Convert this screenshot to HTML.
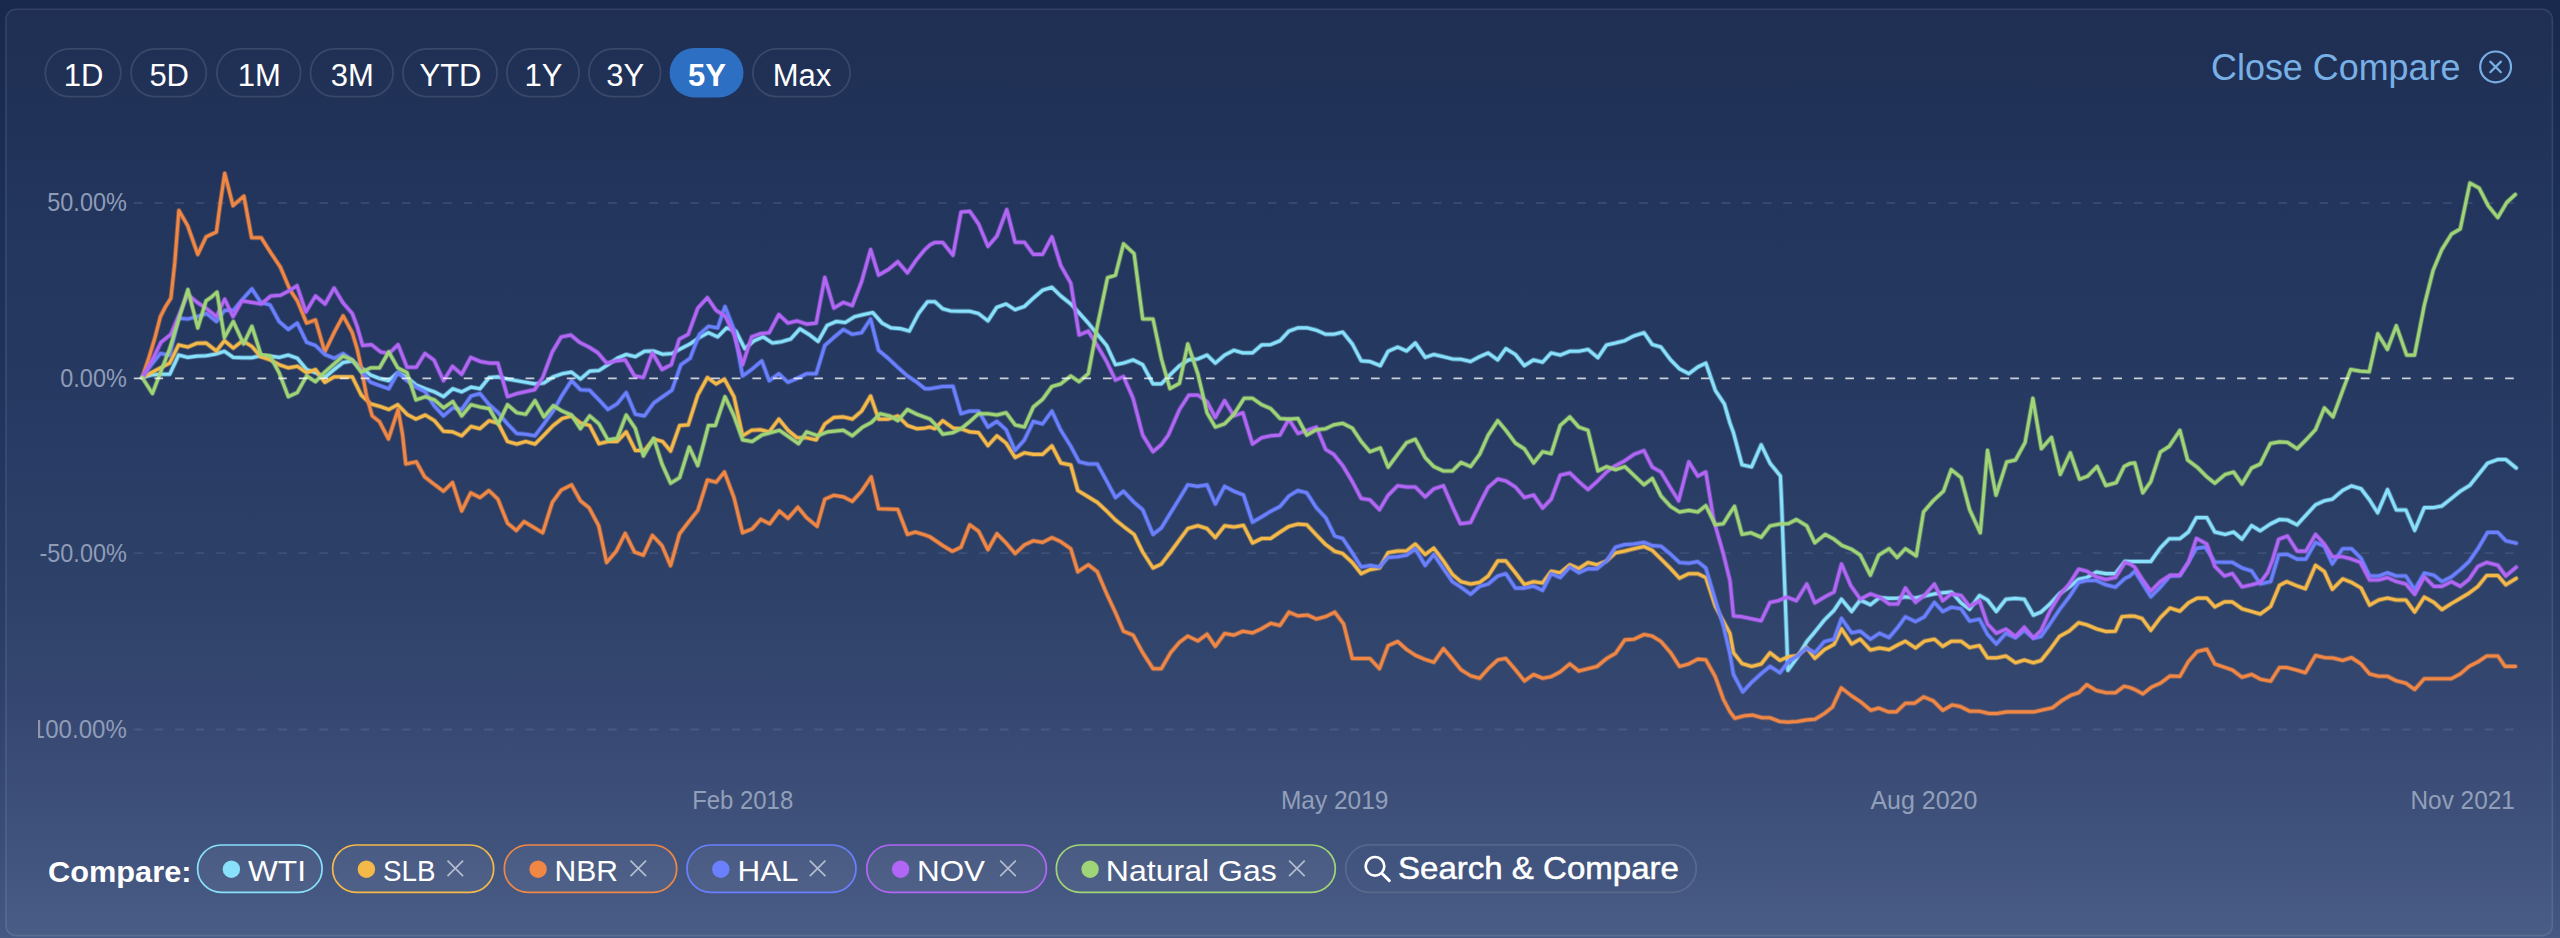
<!DOCTYPE html>
<html lang="en"><head><meta charset="utf-8"><title>Compare chart</title>
<style>
html,body{margin:0;padding:0;}
body{width:2560px;height:938px;overflow:hidden;position:relative;
 font-family:"Liberation Sans",sans-serif;color:#fff;
 background:linear-gradient(180deg,rgb(24,40,77) 0px,rgb(28,48,89) 232px,rgb(30,50,91) 345px,rgb(35,54,96) 467px,rgb(41,60,101) 607px,rgb(47,66,108) 700px,rgb(52,71,114) 757px,rgb(58,78,120) 850px,rgb(68,87,130) 930px,rgb(70,90,132) 938px);}
svg{position:absolute;left:0;top:0;}
text{font-family:"Liberation Sans",sans-serif;}
</style></head><body>
<svg width="2560" height="938" viewBox="0 0 2560 938">
<defs><clipPath id="cv"><rect x="38" y="120" width="2500" height="720"/></clipPath></defs>
<rect x="5.9" y="9.3" width="2546.5" height="926.3" rx="10" ry="10" fill="rgba(255,255,255,0.03)" stroke="rgba(255,255,255,0.11)" stroke-width="1.6"/>
<g fill="none" stroke="rgba(255,255,255,0.115)" stroke-width="1.8">
<rect x="45.3" y="48.8" width="75.5" height="47.8" rx="23.9"/>
<rect x="131.1" y="48.8" width="75.2" height="47.8" rx="23.9"/>
<rect x="216.9" y="48.8" width="83.7" height="47.8" rx="23.9"/>
<rect x="310.5" y="48.8" width="82.6" height="47.8" rx="23.9"/>
<rect x="402.9" y="48.8" width="94.2" height="47.8" rx="23.9"/>
<rect x="506.9" y="48.8" width="72.2" height="47.8" rx="23.9"/>
<rect x="588.9" y="48.8" width="71.7" height="47.8" rx="23.9"/>
<rect x="752.9" y="48.8" width="97.2" height="47.8" rx="23.9"/>
</g>
<rect x="669.6" y="47.9" width="73.9" height="49.6" rx="24.8" fill="#2d6fc2"/>
<g font-size="31" fill="#fff" text-anchor="middle">
<text x="83.55" y="85.9">1D</text>
<text x="169.2" y="85.9">5D</text>
<text x="259.25" y="85.9">1M</text>
<text x="352.3" y="85.9">3M</text>
<text x="450.5" y="85.9">YTD</text>
<text x="543.5" y="85.9">1Y</text>
<text x="625.25" y="85.9">3Y</text>
<text x="707.05" y="85.9" font-weight="bold">5Y</text>
<text x="802" y="85.9">Max</text>
</g>
<text x="2211" y="79.5" font-size="37.8" fill="#78b0e6" textLength="249.5" lengthAdjust="spacingAndGlyphs">Close Compare</text>
<g stroke="#78b0e6" stroke-width="2.2" fill="none" stroke-linecap="round">
<circle cx="2495.6" cy="66.9" r="15.4"/>
<path d="M2490.3 61.6 L2500.9 72.2 M2500.9 61.6 L2490.3 72.2"/>
</g>
<line x1="133.8" y1="203" x2="2514.2" y2="203" stroke="rgba(255,255,255,0.095)" stroke-width="1.9" stroke-dasharray="8.7 11.92"/>
<line x1="133.8" y1="553.1" x2="2514.2" y2="553.1" stroke="rgba(255,255,255,0.085)" stroke-width="1.9" stroke-dasharray="8.7 11.92"/>
<line x1="133.8" y1="729.5" x2="2514.2" y2="729.5" stroke="rgba(255,255,255,0.085)" stroke-width="1.9" stroke-dasharray="8.7 11.92"/>
<g font-size="25" fill="#8f9cb8" text-anchor="end" clip-path="url(#cv)">
<text x="126.8" y="211.4" textLength="79.5" lengthAdjust="spacingAndGlyphs">50.00%</text>
<text x="126.8" y="386.8" textLength="66.5" lengthAdjust="spacingAndGlyphs">0.00%</text>
<text x="126.8" y="561.5" textLength="87.3" lengthAdjust="spacingAndGlyphs">-50.00%</text>
<text x="126.8" y="737.9" textLength="103" lengthAdjust="spacingAndGlyphs">-100.00%</text>
</g>
<g font-size="25.5" fill="#929fba">
<text x="692.2" y="809.4" textLength="101" lengthAdjust="spacingAndGlyphs">Feb 2018</text>
<text x="1280.9" y="809.4" textLength="107.6" lengthAdjust="spacingAndGlyphs">May 2019</text>
<text x="1870.4" y="809.4" textLength="106.9" lengthAdjust="spacingAndGlyphs">Aug 2020</text>
<text x="2410.5" y="809.4" textLength="104.3" lengthAdjust="spacingAndGlyphs">Nov 2021</text>
</g>
<defs>
<polyline id="s-cyan" points="142.2,377.5 151.4,375 160.4,374.3 169.7,374.3 178.6,355.1 187.9,357.4 196.9,356.1 206.1,355.8 215.1,354.2 224.4,351.3 233.3,357.4 242.6,357.7 251.9,357.7 260.8,355.8 270.1,356.1 279.1,357.4 288.3,355.1 297.3,358.3 306.6,369.5 315.5,372.7 324.8,377.5 334.1,369.5 343.1,362.5 352.3,360.9 361.3,367.9 370.6,375 379.5,378.5 388.8,380.7 397.8,372.7 407,377.5 416,384.9 425.3,388.7 434.5,391.9 443.5,396.7 452.8,388.7 461.7,391.9 471,387.1 480,388.7 489.2,377.5 498.2,376.9 507.5,379.1 516.8,380.7 525.7,382.3 535,383.9 543.9,383 553.2,376.9 562.2,373.7 571.5,372.1 580.4,379.1 589.7,371.1 599,370.5 607.9,364.7 617.2,358.3 626.2,354.5 635.4,356.7 644.4,351.3 653.7,351 662.6,354.2 671.9,353.5 680.9,348.7 690.1,343.9 699.4,337.5 708.4,332.7 717.7,336.9 726.6,327.9 735.9,331.1 744.8,348.7 754.1,340.7 763.1,336.9 772.4,343 781.6,341.7 790.6,339.1 799.9,328.9 808.8,334.3 818.1,341.4 827.1,325.4 836.3,321.5 845.3,322.5 854.6,316.7 863.8,314.5 872.8,312.6 882.1,323.1 891,327.9 900.3,328.6 909.3,331.1 918.5,313.6 927.5,301.7 934.8,301.7 942.8,308.8 950.8,311 961,311.3 969.7,311.3 978.6,313.6 987.9,320.9 996.9,307.2 1006.1,304 1015.1,309.7 1024.4,306.5 1033.3,298.2 1042.6,290.2 1051.9,287.3 1060.8,296 1070.8,304 1079.1,312.9 1088.3,323.1 1097.3,334.3 1106.6,345.5 1115.5,364.7 1123.5,363.1 1133.1,359.9 1142.7,364.7 1153,383.9 1161.3,383.9 1170.6,374.3 1179.5,365.7 1188.8,359.9 1197.8,359 1207,355.1 1215.3,363.1 1224.6,355.1 1233.9,350.3 1242.9,352.9 1252.5,352.9 1261.7,344.9 1270.7,344.6 1280,340.7 1288.9,331.1 1297.9,327.9 1307.5,327.9 1316.4,330.2 1325.7,334.3 1333.7,334.3 1342.7,332.1 1352.3,343.9 1361.2,360.9 1369.9,361.5 1380.4,365.7 1388.1,351.3 1397.7,347.1 1406.6,351 1415.3,343 1425.2,357.4 1433.8,354.5 1443.4,356.7 1452.4,359 1461,359.3 1470.6,361.5 1479.6,356.7 1488.2,352.9 1497.8,359.9 1505.8,348.7 1515.4,354.5 1524.4,365.7 1533.6,359.9 1542.6,362.2 1551.2,352.9 1560.2,355.1 1569.8,351.3 1578.8,351.3 1588,349.4 1597.9,357.7 1606.6,344.9 1615.5,343 1624.8,340.7 1633.8,335.9 1644,332.7 1652.3,344.6 1661,347.1 1670.6,359.9 1679.5,368.9 1688.8,373.7 1697.8,367 1705.8,363.1 1715.3,390.3 1724.3,403.8 1730,423.2 1733.5,432.8 1742,464.8 1751.6,466.9 1761.2,444.8 1770,463.2 1780.4,476 1781.5,500 1787.9,670.4 1797.2,657.6 1806.8,641.6 1814.8,632 1824.4,620 1834,610.4 1841.5,599.2 1851.6,611.5 1860.3,600 1870.4,604.8 1879.5,597.6 1889.1,598.4 1897.9,598.1 1905.4,596.8 1915.5,598.1 1924.3,596 1934.4,593.9 1942.7,592.8 1951.5,592 1961.1,602.9 1969.6,609.3 1979.5,595.5 1987.5,600 1996.3,611.5 2005.9,599.2 2015.5,598.4 2024.3,599.2 2033.4,615.2 2041.1,612 2049.9,604 2059.5,593.6 2069.1,587.2 2078.7,579.2 2086.7,577.6 2096.3,572 2105.8,573.6 2115.4,573.6 2125,561.3 2130,561.5 2150.8,561.5 2160.4,547.9 2169.2,538.7 2179.9,538.7 2188.4,532 2196.4,517.6 2206.8,517.6 2214.8,532 2225.2,534.4 2233.6,532 2242,539.2 2251.6,525.6 2260.3,530.8 2270.4,524 2279.5,519.5 2287.5,520 2297.1,524.8 2306.7,514.4 2315.5,504.8 2324.3,500.8 2332.3,499.2 2342.7,490.4 2351.5,485.9 2361.1,488.8 2369.6,500 2377.6,512.8 2387.5,489.6 2396.3,510 2405.9,510 2414.7,530.4 2424.3,507.6 2433.9,507.6 2441.9,506 2451.5,498.4 2460.3,491.2 2469.9,485.3 2477.9,475.2 2487.5,463.2 2497.9,459.5 2505.8,459.5 2516.2,468"/>
<polyline id="s-yellow" points="142.2,377.5 151.4,372.7 160.4,367.9 169.7,363.1 178.6,344.9 187.9,347.1 196.9,343.3 206.1,343 216.4,351 224.4,340.7 233.3,348.1 242.6,340.7 251.9,346.5 260.8,356.7 270.1,359.9 279.1,364.7 288.3,367.9 297.3,366.3 306.6,372.7 315.5,369.5 324.8,382.3 334.1,376.9 343.1,376.9 352.3,376.9 361.3,395.1 370.6,403.8 379.5,406.3 388.8,409.5 397.8,404.7 407,414.3 416,419.1 425.3,415 434.5,420.7 443.5,431.3 452.8,431.9 461.7,435.8 471,426.5 480,428.7 489.2,420.7 498.2,423.3 507.5,441.5 516.8,444.1 525.7,441.5 535,444.1 543.9,435.1 553.2,425.5 562.2,418.5 571.5,415.9 580.4,423 589.7,425.5 599,443.7 607.9,441.5 617.2,441.5 626.2,431.9 635.4,450.5 644.4,450.5 653.7,439 662.6,441.5 670.6,451.1 679.6,425.5 688.2,424.9 697.8,395.1 707.4,377.5 716.1,383.9 724.4,379.1 734,396.7 742.6,435.8 751.6,430.3 760.2,429.7 769.2,431.9 778.8,419.1 788,430.3 797,437.7 806.6,437.7 816.2,439.9 824.8,423.9 833.8,417.5 843.4,416.9 852.3,419.1 861.6,411.1 870.6,396.1 878.6,419.1 888.2,419.1 897.8,415.9 907.4,425.5 916.9,428.7 924.9,428.1 930.1,427.1 934.8,428.7 942.8,420.7 953,428.1 961,428.7 969.7,431.9 978.6,432.6 987.9,445.7 996.9,435.8 1006.1,443.1 1015.1,457.5 1024.4,452.8 1033.3,454.4 1042.6,454.4 1051.9,445.8 1060.8,463 1070.8,465 1077.8,490.5 1088.3,496.9 1097.3,502.4 1106.6,511 1115.5,520 1123.5,526.4 1134.1,534.4 1142.7,552 1153,568 1161.3,564.1 1170.6,552 1179.5,539.8 1187.8,528.6 1197.8,525.7 1207,528.6 1215.3,537.6 1224.6,525.7 1233.9,527 1243.5,525.4 1252.5,543 1261.7,538.5 1270.7,538.5 1280,532.1 1288.9,526.4 1297.9,524.1 1306.8,524.8 1316.4,535 1325.7,544.6 1334.7,551.3 1342.7,553.6 1352.3,562.5 1361.2,573.7 1369.9,569.6 1379.5,568 1388.1,552.6 1397.7,551 1406.6,551 1415.3,544 1425.2,554.5 1433.8,548.1 1443.4,560.9 1452.4,574.4 1461,581.7 1470.6,584 1479.6,582.4 1488.2,576 1497.8,560.9 1505.8,560.9 1515.4,572.8 1524.4,584.6 1533.6,581.7 1542.6,583 1551.2,571.2 1560.2,572.8 1569.8,564.8 1578.8,568.6 1588,562.5 1597,564.8 1606.6,560.9 1615.5,552.9 1624.8,551 1633.8,548.8 1644,546.5 1652.3,550.4 1661,559 1670.6,568.6 1679.5,578.2 1688.8,573.7 1697.8,573.7 1705.8,577.6 1715.3,606.3 1730,633.6 1733.5,652.8 1742,663.6 1751.6,666.4 1761.2,664 1770,652.8 1779.9,660.4 1788.4,656.8 1797.2,655.6 1806.8,647.6 1814.8,658.4 1824.4,649.6 1834,644.4 1841.5,628.8 1851.6,644 1860.3,639.2 1870.4,650 1879.5,648 1889.1,649.6 1897.9,644.8 1905.4,641.2 1915.5,648 1924.3,641.2 1934.4,639.2 1942.7,646.4 1951.5,641.2 1961.1,641.2 1969.6,647.6 1979.5,645.6 1987.5,657.9 1996.3,657.9 2005.9,656 2015.5,662.8 2024.3,660 2033.4,662.8 2041.1,660.4 2049.9,649.6 2059.5,636.4 2069.1,631.2 2078.7,622.7 2086.7,624.8 2096.3,628.8 2105.8,631.5 2115.4,631.2 2121.8,616.8 2130,616 2134.8,616.3 2142,618.4 2150.8,630.4 2160.4,617.6 2170,608 2179.9,611.2 2188.4,602.9 2197.2,598.1 2206.8,598.1 2214.8,606.9 2224.4,601.9 2232.4,601.9 2242,608.8 2251.6,611.5 2260.3,614.1 2270.7,606.4 2279.5,585.3 2286.7,581.6 2296.3,585.6 2305.4,588.8 2315.5,565.3 2324.3,571.5 2332.3,589.3 2342.7,578.9 2351.5,582.4 2361.1,588 2369.6,605.1 2378.7,600 2387.5,598.1 2396.3,600 2405.9,600 2414.7,612 2424.3,597.1 2433.9,602.4 2441.9,609.6 2451.5,603.5 2460.3,598.4 2469.1,593.1 2477.9,586.4 2486.7,575.5 2497.9,575.5 2505.8,584.8 2516.2,578.4"/>
<polyline id="s-orange" points="142.2,377.5 149.2,356.7 155,337.5 160.4,316.7 165.2,307.2 170.9,298.2 174.8,262.4 178.9,210.5 187.6,225.6 197.8,254.4 206.1,236.8 216.4,232 220.5,201.6 224.7,173.4 233,205.7 243.9,196.1 251.6,237.7 261.2,237.7 270.8,252.8 280.4,267.2 289.9,289.6 297.3,300.8 306.6,323.1 315.5,319.9 324.8,351.9 334.1,332.7 343.1,315.8 352.3,332.7 357.1,348.7 361.3,367.9 366.7,396.7 372.2,415.9 379.5,421.7 388.5,439 398.1,409.5 402.6,435.1 405.8,464 416.3,461.8 424.6,476.8 433.9,484.1 443.5,491.2 452.5,482.5 461.7,511 470.7,492.8 480,497.6 488.9,490.5 497.9,499.2 507.5,523.2 516.4,530.5 524.1,521.6 533.7,527.3 542.7,532.8 552.3,502.4 561.2,490.2 571.5,484.8 580.4,500.8 589.1,507.8 598.7,525.7 606.6,562.5 616.2,551.3 625.2,533.4 634.5,552 643.4,555.2 652.4,535.3 662,545.6 670.6,565.7 679.6,533.7 688.2,522.5 697.8,510.4 707.4,480 716.1,482.2 724.4,472 734,497.6 742.6,532.8 752.2,528.9 760.8,519.3 769.8,523.8 779.4,511 788,518.4 797.9,507.2 806.6,517.7 817.1,526.4 824.8,499.2 833.8,495.3 843.4,496.9 852.3,501.4 861.6,491.2 871.2,476.8 878.6,508.8 897.8,509.4 907.4,534.4 915.3,532.1 923.3,534.4 930.1,536.9 942.8,545.6 952.4,551.3 961,547.2 969.7,524.8 978.6,531.2 987.9,549.7 996.9,533.7 1006.1,543 1015.1,553.6 1024.4,544.9 1033.3,540.8 1042.6,542.4 1051.9,537.6 1060.8,541.7 1070.8,548.8 1077.8,571.8 1088.3,564.8 1097.3,571.8 1106.6,593.6 1115.5,612.7 1123.5,631.3 1133.1,635.1 1142.7,652.7 1153,668.7 1161.3,668.7 1170.6,652.7 1179.5,642.2 1187.8,636.1 1197.8,640.9 1207,634.2 1215.3,646.3 1224.6,633.5 1233.9,635.1 1242.9,631.3 1252.5,632.9 1261.7,628.7 1270.7,623.3 1280,625.5 1288.9,612.1 1297.9,615.9 1307.5,615 1316.4,619.1 1325.7,616.6 1334.7,612.1 1343.6,623.9 1352.3,658.5 1361.2,658.5 1369.9,658.5 1379.5,668.7 1388.1,645.7 1397.7,641.5 1406.6,649.5 1415.3,655.3 1424.2,659.1 1433.8,662.3 1443.4,648.6 1452.4,659.1 1461,669.7 1470.6,675.8 1479.6,678.3 1488.2,668.7 1497.8,659.8 1505.8,658.5 1515.4,669.7 1524.4,680.9 1533.6,674.5 1542.6,678.3 1551.2,676.7 1560.2,671.9 1569.8,663.9 1578.8,671 1588,668.7 1597,666.5 1606.6,658.5 1615.5,653.4 1624.8,639.9 1633.8,639.3 1644,634.5 1652.3,636.1 1661,641.5 1670.6,652.7 1679.5,666.5 1688.8,663.9 1697.8,659.1 1705.8,659.8 1715.3,676.7 1723.3,699.1 1730,711.9 1734.8,718.3 1744.4,715.8 1752.4,715.1 1762,717.7 1770,717.7 1779.6,721.5 1787.6,722.1 1797.2,721.5 1806.8,719.9 1814.8,719.3 1824.4,713.5 1832.4,707.1 1841.3,687.9 1851.6,695.9 1861.2,702.3 1870.8,710.3 1878.8,708.1 1888.3,711.9 1896.3,711.9 1905.3,703.3 1914.6,703.3 1923.5,696.9 1933.1,700.7 1942.7,710.3 1952.3,704.9 1960.3,706.5 1969.9,711.3 1979.5,711.3 1989.1,713.5 1997.1,713.5 2006.7,711.9 2016.3,711.9 2033.9,711.9 2043.5,709.7 2052.5,707.8 2061.7,700.7 2070.7,695.3 2078.7,692.7 2086.7,684.7 2096.3,690.5 2105.9,692.7 2115.5,692.7 2124.1,686.3 2130,687.6 2134.8,689.5 2142.8,693.9 2151.6,687.1 2160.4,683.2 2170,676 2179.9,676.4 2188.4,661.6 2197.2,651.5 2206.8,649.2 2214.8,664 2224.4,667.2 2232.4,670 2242,677.2 2251.6,674.4 2260.3,679.2 2270.7,681.2 2279.5,667.5 2286.7,667.5 2296.3,670 2305.4,672.8 2315.5,655.5 2324.3,657.6 2333.1,658 2342.7,660.4 2351.5,657.6 2361.1,664 2369.6,673.9 2378.7,676.3 2387.5,676.3 2396.3,680.8 2405.9,683.2 2414.7,689.5 2424.3,678.7 2433.9,678.7 2442.7,678.7 2451.5,678.7 2460.3,673.9 2469.1,666.4 2477.9,661.9 2486.7,656 2497.9,656 2505,666.4 2515.4,666.4"/>
<polyline id="s-blue" points="142.2,377.5 151.4,364.7 160.4,353.5 169.7,355.1 178.6,318.3 187.9,319 196.9,316.7 206.8,313.6 216.4,321.5 224.7,310.4 233.3,310.4 242.6,299.2 251.9,288.9 260.8,302.4 270.1,304.9 279.1,321.5 288.3,329.5 297.3,323.1 306.6,342.3 315.5,345.5 324.8,354.5 334.1,358.3 343.1,353.5 352.3,359.9 361.3,371.1 370.6,382.3 379.5,385.5 388.8,388.7 397.8,372.7 407,380.7 416,387.1 425.3,391.9 434.5,406.3 443.5,415.9 452.8,407.9 461.7,409.5 471,396.1 480,393.5 489.2,404.7 498.2,412.7 507.5,423.9 516.8,433.5 525.7,434.2 535,435.8 543.9,423.9 553.2,411.1 562.2,395.1 571.5,380.7 580.4,389.7 589.7,390.3 599,399.9 607.9,409.5 617.2,403.8 626.2,392.6 635.4,414.3 644.4,415.9 653.7,403.1 662.6,396.7 671.9,390.3 680.9,364.7 690.1,358.3 699.4,334.3 708.4,326.3 717.7,327.9 725,306.5 734,329.5 742.6,375.9 751.6,369.5 761.8,360.9 769.2,380.7 778.8,373.7 788,382.3 797,378.5 806.6,373.7 816.2,373.7 824.8,345.5 833.8,337.5 843.4,329.5 852.3,334.3 861.6,332.7 870.6,319 878.6,350.3 888.2,358.3 897.8,367.3 907.4,375.9 916.9,382.3 924.9,388.7 930.1,388.7 942.8,386.5 953,386.2 961,413.7 969.7,411.1 978.6,411.1 987.9,427.1 996.9,421.4 1006.1,429.7 1015.1,450.5 1024.4,439.9 1033.3,421.4 1042.6,423.9 1051.9,411.1 1060.8,430.3 1070.8,446.3 1079.1,461.8 1088.3,464 1097.3,464 1106.6,480.9 1115.5,497.6 1123.5,491.2 1134.1,502.4 1142.7,509.7 1153,534.4 1161.3,528 1170.6,512.9 1179.5,498.5 1187.8,484.8 1197.8,486.4 1207,484.8 1215.3,504 1224.6,486.4 1233.9,491.2 1243.5,495 1252.5,522.2 1261.7,516.8 1270.7,511.3 1280,506.5 1288.9,496 1297.9,490.5 1306.8,492.8 1316.4,507.8 1325.7,517.7 1334.7,536 1342.7,538.5 1352.3,552.9 1361.2,567 1369.9,565.4 1379.5,567 1388.1,557.4 1397.7,556.8 1406.6,555.2 1415.3,548.8 1425.2,565.4 1433.8,554.5 1443.4,568.6 1452.4,581.7 1461,587.2 1470.6,594.2 1479.6,586.5 1488.2,584 1497.8,576 1505.8,573.7 1515.4,588.1 1524.4,588.1 1533.6,586.2 1542.6,590.4 1551.2,573.7 1560.2,577.6 1569.8,567 1578.8,572.8 1588,568.6 1597,568.9 1606.6,560.9 1615.5,547.2 1624.8,544.6 1633.8,544 1644,542.4 1652.3,545.6 1661,546.2 1670.6,554.2 1679.5,562.5 1688.8,563.2 1697.8,561.6 1705.8,568 1715.3,599.9 1723.3,625.5 1730,654.4 1733.5,674.4 1742.8,691.9 1751.6,682.4 1761.2,673.6 1770,666.4 1779.9,672.8 1788.4,661.6 1797.2,656 1806.8,648 1814.8,652.8 1824.4,641.6 1834,639.2 1841.5,618.4 1851.6,632.8 1860.3,631.2 1870.4,639.2 1879.5,633.3 1889.1,637.6 1897.9,627.2 1905.4,616.8 1915.5,621.6 1924.3,616.8 1934.4,602.4 1942.7,611.5 1951.5,607.2 1961.1,608.8 1969.6,621.1 1979.5,619.2 1987.5,634.4 1996.3,644 2005.9,633.3 2015.5,637.9 2024.3,630.4 2033.4,638.4 2041.1,636.4 2049.9,624 2059.5,609.6 2069.1,597.1 2078.7,582.4 2086.7,580.5 2096.3,580.5 2105.8,584.8 2115.4,587.2 2125,578.4 2130,576 2134.8,571.2 2142.8,584 2150.8,596.8 2160.4,587.2 2170,576 2179.9,575.7 2188.4,562.3 2196.4,548.4 2205.2,547.1 2214.8,562 2224.4,562.3 2232.4,562.3 2242,567.9 2251.6,570.9 2260.3,584 2270.7,581.6 2278.7,554.8 2287.5,554.3 2297.1,559.1 2305.9,559.1 2315.5,542.4 2324.3,546.3 2332.3,563.9 2342.7,548.7 2351.5,548.7 2361.1,558.3 2369.6,576 2378.7,576 2387.5,572.8 2396.3,576 2405.9,576 2414.7,589.6 2424.3,573.1 2433.9,575.2 2441.9,581.6 2451.5,576.8 2460.3,569.6 2469.1,561.5 2477.9,548.7 2487.5,532.4 2497.9,532.4 2505.8,540.8 2516.2,543.2"/>
<polyline id="s-purple" points="142.2,377.5 152.4,359.9 161,342.3 170.9,334.3 178.9,315.2 187.6,294.4 197.2,302.4 206.8,308.8 216.4,316.7 224.7,299.2 233,316.7 242,300.8 251.6,302.4 261.2,304 270.8,296 280.4,295.3 288.3,291.2 297,285.7 305.9,312 315.5,296 325.1,304 334.1,288 342.7,302.4 352.3,313.6 357.1,326.3 362.6,345.5 371.5,344.6 380.5,351.9 389.1,353.5 398.1,344.6 407,367.3 416.3,367.3 424.9,353.5 433.9,359.9 443.5,380.7 452.5,366.3 461.7,374.3 470.7,357.4 480.3,361.5 488.9,363.1 497.9,363.1 507.5,396.7 517.1,393.5 534.7,389.7 542.7,377.5 552.3,351.9 561.2,336.9 570.8,335 579.5,342.3 589.1,347.1 598,352.9 606.6,363.1 616.2,360.9 625.2,359.9 634.5,375.9 643.4,377.5 652.4,352.9 662,369.5 671.3,364.7 679.3,339.1 688.2,334.3 697.8,308.1 707.4,297.6 716.1,310.4 725,315.8 734,334.3 742.6,364.7 751.6,336.9 760.2,333.7 769.2,332.7 778.8,314.5 788,323.1 797,320.9 806.6,324.1 816.2,323.1 824.8,277.4 833.8,308.1 843.4,302.4 852.3,305.6 861.6,281.6 870.6,249.6 878.6,275.2 888.2,269.7 897.8,261.7 907.4,272.9 916.9,259.2 924.9,249.6 930.1,244.8 934.8,242.5 942.8,242.5 953,255.3 961,212.1 969.7,211.2 978.6,224 987.9,246.4 996.9,236.1 1006.8,209.6 1015.1,242.2 1024.4,242.2 1033.3,254.4 1042.6,254.4 1051.9,236.8 1060.8,265.6 1070.8,283.2 1079.1,335 1088.3,331.1 1097.3,345.5 1106.6,361.5 1115.5,380.1 1123.5,376.6 1133.1,398.3 1142.7,435.1 1153,451.7 1161.3,444.7 1168.3,435.1 1179.5,409.5 1188.8,395.1 1197.8,395.1 1207,401.5 1215.3,417.5 1224.6,400.6 1233.9,415.9 1242.9,412.7 1252.5,444.1 1261.7,437.7 1270.7,435.8 1280,435.1 1288.9,419.1 1297.9,433.5 1307.5,430.3 1316.4,427.1 1325.7,449.5 1333.7,454.4 1342.7,465.6 1352.3,481.6 1361.2,498.5 1369.9,499.8 1379.5,509.7 1388.1,495.3 1397.7,485.7 1406.6,487 1415.3,487 1425.2,496.9 1433.8,488.9 1443.4,485.7 1452.4,506.5 1460.4,523.8 1470.6,522.5 1479.6,504 1488.2,487.3 1497.8,479 1505.8,480.9 1515.4,487 1524.4,497.6 1533.6,495 1542.6,508.1 1551.2,499.2 1560.2,475.2 1569.8,472.9 1578.8,481.6 1588,489.6 1597,481.6 1606.6,472 1615.5,465.6 1624.8,460.8 1633.8,454.4 1644,450.6 1652.3,467.2 1661,472 1670.6,488 1678.6,500.8 1688.8,461.8 1697.8,476.1 1705.8,472 1713.7,520 1723.3,553.6 1730,580.8 1733.5,616 1742,616.8 1761.2,620.8 1770,602.4 1778,600.8 1786.8,597.1 1796.4,600.8 1806.8,584 1814.8,602.9 1824.4,597.1 1834,592 1841.5,564 1850.8,585.6 1860.3,599.2 1870.4,593.9 1879.5,597.1 1889.1,604 1897.9,604 1905.4,588 1915.5,602.4 1924.3,595.5 1934.4,584 1942.7,600.8 1951.5,593.9 1961.1,595.5 1969.6,606.4 1979.5,600.8 1987.5,624 1996.3,633.3 2005.9,629.1 2015.5,636.4 2024.3,627.2 2033.4,637.9 2041.1,630.4 2049.9,611.2 2059.5,595.2 2069.1,584 2078.7,569.1 2086.7,571.2 2096.3,576.8 2105.8,579.5 2115.4,577.6 2125,562.4 2130,564 2134.8,567.2 2142.8,580 2150.8,591.2 2160.4,581.6 2170,575.2 2179.9,575.2 2188.4,562.4 2196.4,538.4 2206.8,544 2214.8,566.3 2224.4,576 2232.4,573.6 2242,586.9 2251.6,584.8 2260.3,582.4 2267.5,572.8 2272.3,560.7 2278.7,539.2 2287.5,536 2297.1,551.1 2305.9,551.1 2315.5,534.4 2324.3,544 2332.3,556.7 2342.7,556.7 2351.5,559.1 2360.3,562.3 2369.6,580 2378.7,580 2387.5,577.6 2396.3,581.6 2405.9,584 2414.7,594.4 2424.3,576.8 2433.9,586.4 2441.9,586.4 2451.5,581.6 2460.3,586.4 2469.1,579.2 2477.9,566.4 2486.7,562.4 2497.9,565.3 2505.8,576 2516.2,567.2"/>
<polyline id="s-green" points="142.2,377.5 152.4,393.5 160.4,372.7 169.7,348.7 178.6,319.9 187.9,289.6 192.4,307.2 197.8,327.9 206.1,300.8 211.6,296.9 217,292.1 220.5,313.6 224.4,337.5 233.3,321.5 243.6,343.9 251.9,326.3 260.8,354.2 270.1,356.1 279.1,372.7 288.3,396.7 297.3,392.6 306.6,375.9 315.5,381.7 324.8,372.1 334.1,363.8 343.1,356.1 352.3,359.9 361.3,372.1 370.6,367.9 379.5,367.9 388.8,351.9 397.8,367.9 407,372.7 416,399.9 425.3,396.7 434.5,399.9 443.5,407.9 452.8,401.5 461.7,415.9 471,404.7 480,407 489.2,408.6 498.2,423.9 507.5,404.7 516.8,412.7 525.7,414.3 535,400.6 543.9,416.9 553.2,405.7 562.2,411.1 571.5,415 580.4,428.7 589.7,415.9 599,423.9 607.9,439.9 617.2,438.3 626.2,415 635.4,428.7 643.4,456 653.7,438.3 662,464 670.6,483.2 679.6,477.7 689.2,447 697.8,465.6 708.4,425.5 715.4,425.5 725,396.7 734,415.9 742.6,439.9 752.2,441.5 761.8,435.1 779.4,430.3 798.6,443.7 806.6,431.9 817.8,435.8 827.4,431.9 843.4,430.3 852.3,435.8 862.6,427.1 871.5,422.3 880.2,413.7 889.8,415.9 897.8,420.7 907.4,409.5 916.9,414.3 930.1,419.1 934.8,423.9 942.8,434.2 953,432.6 961,428.7 969.7,421.7 978.6,413.7 987.9,413.7 996.9,415 1006.1,412.7 1015.1,424.9 1024.4,427.1 1033.3,407 1042.6,399.3 1051.9,386.5 1060.8,383.9 1070.8,375.9 1079.1,381.7 1088.3,373.7 1097.3,326.3 1107.5,277.7 1115.5,275.2 1123.5,243.8 1134.1,253.7 1142.7,319 1153,319 1161.3,358.3 1169.9,388.7 1179.5,383.3 1187.8,343.9 1197.8,373.7 1207,412.7 1215.3,427.1 1224.6,423.9 1233.9,414.3 1244.1,398.3 1252.5,398.3 1261.7,404.7 1270.7,408.6 1280,418.5 1288.9,419.1 1297.9,418.5 1306.8,435.1 1316.4,429.7 1325.7,428.7 1333.7,424.9 1342.7,423.3 1352.3,428.1 1361.2,441.5 1369.9,451.7 1380.4,447.9 1388.1,467.2 1397.7,454.4 1406.6,442.6 1415.3,439.3 1425.2,457.6 1433.8,466.6 1443.4,471 1452.4,471 1461,462.4 1470.6,466.6 1479.6,454.4 1488.2,435.1 1497.8,420.7 1505.8,430.3 1515.4,443.1 1524.4,448.9 1533.6,463 1542.6,451.7 1551.2,453.7 1560.2,425.5 1569.8,416.9 1578.8,427.1 1588,430.3 1597.9,471 1606.6,466.6 1615.5,469.8 1624.8,466.6 1633.8,475.2 1644,484.8 1652.3,478.4 1661,496 1670.6,506.5 1679.5,512 1688.8,510.4 1697.8,512 1705.8,505.6 1715.3,524.8 1723.3,523.8 1730.1,512.9 1734.5,506.4 1742,534.4 1750.8,532.8 1761.2,537.2 1770,525.9 1779.9,524 1788.4,523.6 1796.4,519.5 1806.8,525.9 1814.8,542.8 1825.2,534.4 1834,539.2 1842,545.5 1851.6,549.2 1860.3,555.1 1870.4,575.2 1878.7,555.1 1889.1,548.7 1897.1,557.5 1905.4,548.7 1916.3,555.9 1923.5,512 1933.1,500.8 1943.5,491.2 1951.2,469.6 1961.1,477.6 1969.6,509.6 1980.3,532.8 1987.5,450.4 1996,495.2 2006.7,461.9 2015.5,460 2025.1,442.4 2032.9,398.3 2041.4,448.8 2051.5,437.3 2060.3,474.4 2070.3,452.8 2079.5,479.2 2087.5,476.3 2097.1,466.4 2105.8,485.6 2116.2,482.7 2124.2,466.4 2130,463.5 2134.8,462.9 2142.8,492.8 2150.8,481.6 2160.4,452 2169.2,446.4 2179.9,430.4 2187.6,460 2197.2,467.2 2206.8,476.8 2214.8,483.2 2225.2,474.4 2233.6,472 2242,484 2251.6,468 2260.3,464 2270.4,443.5 2279.5,441.9 2287.5,442.4 2297.1,448.8 2306.7,439.2 2315.5,429.6 2324.4,407.9 2333,416.9 2341.6,393.5 2350.6,369.5 2360.2,371.1 2369.2,371.8 2377.8,333.7 2387.4,349.4 2396.3,325.7 2406.6,355.1 2414.6,355.1 2424.2,305.6 2433.1,270.4 2441.8,249.6 2451.4,234.2 2460.3,228.8 2469.9,183 2479.2,188.2 2488.2,205.7 2497.8,217.6 2506.7,202.5 2515.3,194.5"/>
</defs>
<g fill="none" stroke-linejoin="round" stroke-linecap="round">
<use href="#s-cyan" stroke="#88e0fb" stroke-width="4.9" stroke-opacity="0.42"/>
<use href="#s-cyan" stroke="#88e0fb" stroke-width="3.1"/>
<use href="#s-yellow" stroke="#f5b94a" stroke-width="4.9" stroke-opacity="0.42"/>
<use href="#s-yellow" stroke="#f5b94a" stroke-width="3.1"/>
<use href="#s-orange" stroke="#f08745" stroke-width="4.9" stroke-opacity="0.42"/>
<use href="#s-orange" stroke="#f08745" stroke-width="3.1"/>
<use href="#s-blue" stroke="#6a80ff" stroke-width="4.9" stroke-opacity="0.42"/>
<use href="#s-blue" stroke="#6a80ff" stroke-width="3.1"/>
<use href="#s-purple" stroke="#b266f5" stroke-width="4.9" stroke-opacity="0.42"/>
<use href="#s-purple" stroke="#b266f5" stroke-width="3.1"/>
<use href="#s-green" stroke="#a0d577" stroke-width="4.9" stroke-opacity="0.42"/>
<use href="#s-green" stroke="#a0d577" stroke-width="3.1"/>
</g>
<line x1="133.8" y1="378.4" x2="2514.2" y2="378.4" stroke="rgba(255,255,255,0.76)" stroke-width="1.9" stroke-dasharray="8.7 11.92"/>
<text x="48" y="881.5" font-size="30" font-weight="bold" fill="#fff" textLength="143.5" lengthAdjust="spacingAndGlyphs">Compare:</text>
<rect x="197.6" y="845" width="124.5" height="47.4" rx="23.7" fill="rgba(255,255,255,0.055)" stroke="#88e0fb" stroke-width="1.7"/>
<circle cx="231.4" cy="869.2" r="8.7" fill="#88e0fb"/>
<text x="248" y="881" font-size="29.2" fill="#fff" textLength="58" lengthAdjust="spacingAndGlyphs">WTI</text>
<rect x="332.6" y="845" width="161.1" height="47.4" rx="23.7" fill="rgba(255,255,255,0.055)" stroke="#f5b94a" stroke-width="1.7"/>
<circle cx="366.4" cy="869.2" r="8.7" fill="#f5b94a"/>
<text x="383" y="881" font-size="29.2" fill="#fff" textLength="52.5" lengthAdjust="spacingAndGlyphs">SLB</text>
<path d="M447.5 860.6 L463.1 876.2 M463.1 860.6 L447.5 876.2" stroke="#b4bccf" stroke-width="1.7" fill="none"/>
<rect x="504.3" y="845" width="172.4" height="47.4" rx="23.7" fill="rgba(255,255,255,0.055)" stroke="#f08745" stroke-width="1.7"/>
<circle cx="538.1" cy="869.2" r="8.7" fill="#f08745"/>
<text x="554.5" y="881" font-size="29.2" fill="#fff" textLength="63.5" lengthAdjust="spacingAndGlyphs">NBR</text>
<path d="M630.5 860.6 L646.1 876.2 M646.1 860.6 L630.5 876.2" stroke="#b4bccf" stroke-width="1.7" fill="none"/>
<rect x="687" y="845" width="169" height="47.4" rx="23.7" fill="rgba(255,255,255,0.055)" stroke="#6a80ff" stroke-width="1.7"/>
<circle cx="720.8" cy="869.2" r="8.7" fill="#6a80ff"/>
<text x="737.5" y="881" font-size="29.2" fill="#fff" textLength="61" lengthAdjust="spacingAndGlyphs">HAL</text>
<path d="M809.8 860.6 L825.4 876.2 M825.4 860.6 L809.8 876.2" stroke="#b4bccf" stroke-width="1.7" fill="none"/>
<rect x="866.8" y="845" width="179.6" height="47.4" rx="23.7" fill="rgba(255,255,255,0.055)" stroke="#b266f5" stroke-width="1.7"/>
<circle cx="900.6" cy="869.2" r="8.7" fill="#b266f5"/>
<text x="917" y="881" font-size="29.2" fill="#fff" textLength="68" lengthAdjust="spacingAndGlyphs">NOV</text>
<path d="M1000.2 860.6 L1015.8 876.2 M1015.8 860.6 L1000.2 876.2" stroke="#b4bccf" stroke-width="1.7" fill="none"/>
<rect x="1056.3" y="845" width="279" height="47.4" rx="23.7" fill="rgba(255,255,255,0.055)" stroke="#a0d577" stroke-width="1.7"/>
<circle cx="1090.1" cy="869.2" r="8.7" fill="#a0d577"/>
<text x="1105.8" y="881" font-size="29.2" fill="#fff" textLength="171" lengthAdjust="spacingAndGlyphs">Natural Gas</text>
<path d="M1289.1 860.6 L1304.7 876.2 M1304.7 860.6 L1289.1 876.2" stroke="#b4bccf" stroke-width="1.7" fill="none"/>
<rect x="1345.7" y="844.9" width="350.6" height="47.4" rx="23.7" fill="none" stroke="rgba(255,255,255,0.115)" stroke-width="1.8"/>
<circle cx="1375" cy="866.3" r="9.3" stroke="#fff" stroke-width="2.6" fill="none"/>
<path d="M1381.8 873.2 L1389.3 880.6" stroke="#fff" stroke-width="3" stroke-linecap="round"/>
<text x="1398" y="879.3" font-size="31.4" fill="#fff" stroke="#fff" stroke-width="0.5" textLength="281" lengthAdjust="spacingAndGlyphs">Search &amp; Compare</text>
</svg>
</body></html>
